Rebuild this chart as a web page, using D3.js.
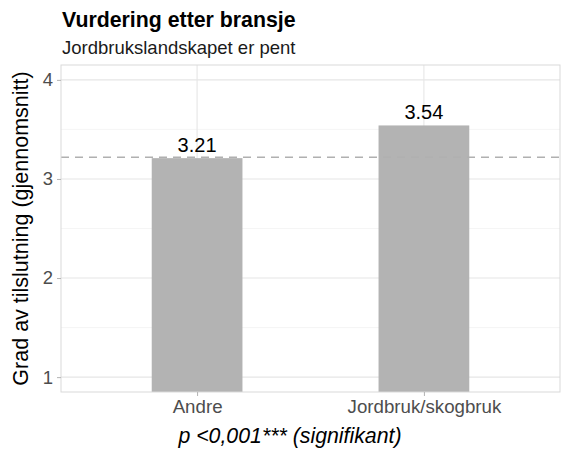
<!DOCTYPE html>
<html>
<head>
<meta charset="utf-8">
<script src="https://cdn.jsdelivr.net/npm/d3@7"></script>
<style>
  body { margin: 0; background: #fff; }
  text { font-family: "Liberation Sans", Arial, sans-serif; }
</style>
</head>
<body>
<div id="chart"></div>
<script>
var width = 561,
  height = 455;

// data
var categories = ["Andre", "Jordbruk/skogbruk"];
var values = [3.21, 3.54];
var overallMean = 3.22;
var yTicks = [1, 2, 3, 4];
var yMinor = [1.5, 2.5, 3.5];

var panel = { left: 61, right: 560, top: 65, bottom: 392 };

var svg = d3.select("#chart").append("svg")
  .attr("width", width)
  .attr("height", height);

// ggplot-ish: discrete axis expanded 0.6 each side, continuous 5%
var x = d3.scaleLinear()
  .domain([0.4, categories.length + 0.6])
  .range([panel.left, panel.right]);

var y = d3.scaleLinear()
  .domain([0.85, 4.15])
  .range([panel.bottom, panel.top]);

var barW = x(1.4) - x(1);

// grid
var grid = svg.append("g");
grid.selectAll(".minor")
  .data(yMinor)
  .enter().append("line")
  .attr("x1", panel.left).attr("x2", panel.right)
  .attr("y1", d => y(d)).attr("y2", d => y(d))
  .attr("stroke", "#f2f2f2")
  .attr("stroke-width", 0.8);
grid.selectAll(".major")
  .data(yTicks)
  .enter().append("line")
  .attr("x1", panel.left).attr("x2", panel.right)
  .attr("y1", d => y(d)).attr("y2", d => y(d))
  .attr("stroke", "#e6e6e6")
  .attr("stroke-width", 1.1);
grid.selectAll(".vmajor")
  .data(categories)
  .enter().append("line")
  .attr("x1", (d, i) => x(i + 1)).attr("x2", (d, i) => x(i + 1))
  .attr("y1", panel.top).attr("y2", panel.bottom)
  .attr("stroke", "#e6e6e6")
  .attr("stroke-width", 1.1);

// bars
svg.append("g").selectAll("rect")
  .data(values)
  .enter().append("rect")
  .attr("x", (d, i) => x(i + 1) - barW / 2)
  .attr("width", barW)
  .attr("y", d => y(d))
  .attr("height", d => panel.bottom - y(d))
  .attr("fill", "#b3b3b3");

// mean line
svg.append("line")
  .attr("x1", panel.left).attr("x2", panel.right)
  .attr("y1", y(overallMean)).attr("y2", y(overallMean))
  .attr("stroke", "#b0b0b0")
  .attr("stroke-width", 1.5)
  .attr("stroke-dasharray", "8,6");

// value labels
svg.append("g").selectAll("text")
  .data(values)
  .enter().append("text")
  .attr("x", (d, i) => x(i + 1))
  .attr("y", d => y(d) - 6)
  .attr("text-anchor", "middle")
  .attr("font-size", 20)
  .attr("fill", "#000")
  .text(d => d.toFixed(2));

// panel border
svg.append("rect")
  .attr("x", panel.left).attr("y", panel.top)
  .attr("width", panel.right - panel.left)
  .attr("height", panel.bottom - panel.top)
  .attr("fill", "none")
  .attr("stroke", "#d9d9d9")
  .attr("stroke-width", 1);

// y axis
var yAxis = svg.append("g")
  .attr("transform", "translate(" + panel.left + ",0)")
  .call(d3.axisLeft(y).tickValues(yTicks).tickFormat(d3.format("d")).tickSize(4).tickPadding(4));
yAxis.select(".domain").remove();
yAxis.selectAll(".tick line").attr("stroke", "#b3b3b3");
yAxis.selectAll(".tick text")
  .attr("font-size", 18.5)
  .attr("font-family", "Liberation Sans, Arial, sans-serif")
  .attr("fill", "#4d4d4d");

// x axis
var xAxis = svg.append("g")
  .attr("transform", "translate(0," + panel.bottom + ")")
  .call(d3.axisBottom(x).tickValues(categories.map((d, i) => i + 1))
    .tickFormat((d) => categories[d - 1]).tickSize(4).tickPadding(4));
xAxis.select(".domain").remove();
xAxis.selectAll(".tick line").attr("stroke", "#b3b3b3");
xAxis.selectAll(".tick text")
  .attr("font-size", 18.7)
  .attr("font-family", "Liberation Sans, Arial, sans-serif")
  .attr("fill", "#4d4d4d");

// titles
svg.append("text")
  .attr("x", 62).attr("y", 27)
  .attr("font-size", 21.3)
  .attr("font-weight", "bold")
  .text("Vurdering etter bransje");

svg.append("text")
  .attr("x", 62).attr("y", 54)
  .attr("font-size", 18.5)
  .attr("fill", "#1a1a1a")
  .text("Jordbrukslandskapet er pent");

svg.append("text")
  .attr("transform", "translate(28," + ((panel.top + panel.bottom) / 2) + ") rotate(-90)")
  .attr("text-anchor", "middle")
  .attr("font-size", 21.5)
  .text("Grad av tilslutning (gjennomsnitt)");

svg.append("text")
  .attr("x", 290).attr("y", 443)
  .attr("text-anchor", "middle")
  .attr("font-size", 21.3)
  .attr("font-style", "italic")
  .text("p <0,001*** (signifikant)");
</script>
</body>
</html>
